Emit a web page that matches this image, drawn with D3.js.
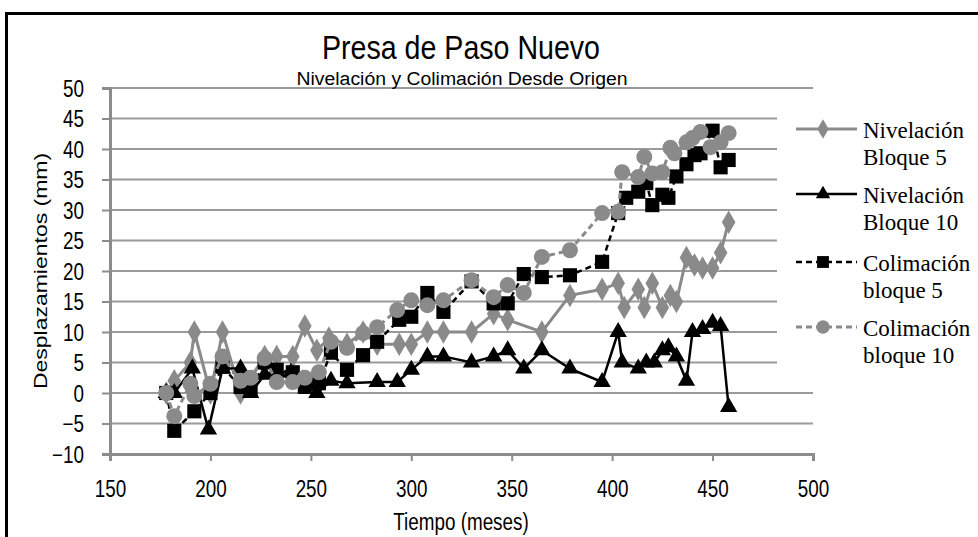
<!DOCTYPE html>
<html>
<head>
<meta charset="utf-8">
<script src="https://cdn.jsdelivr.net/npm/d3@7"></script>
<style>
  body { margin: 0; background: #fff; }
  .axis text { font-family: "Liberation Sans", Arial, sans-serif; font-size: 23px; fill: #000; }
  .axis path, .axis line { stroke: #8c8c8c; }
</style>
</head>
<body>
<script>
// data (months, mm)
var nivB5Months = [178,182,190,192,200,206,215,227,233,241,247,253,259,268,276,283,294,300,308,316,330,341,348,365,379,395,403,406,413,416,420,425,429,432,437,441,445,450,454,458];
var nivB5Values = [0,2,5,10,0,10,0,6,6,6,11,7,9,8,10,8,8,8,10,10,10,13,12,10,16,17,18,14,17,14,18,14,16,15,22.2,21,20.5,20.5,23,28];

var nivB10Months = [178,182,191,199,206,215,220,227,233,240,246,253,260,268,283,293,300,308,316,330,341,348,356,365,379,395,403,405,413,417,421,425,428,432,437,440,445,450,454,458];
var nivB10Values = [0,0,4,-6,4,4,0,3,3.5,3.3,2.2,0,2,1.6,1.8,1.8,3.8,6,6,5,6,7,4,7,4,1.8,10,5,4,5,5,7,7.5,6,2,10,10.5,11.5,11,-2.3];

var colB5Months = [178,182,192,200,206,215,220,227,233,241,247,254,260,268,276,283,294,300,308,316,330,341,348,356,365,379,395,403,407,413,417,420,425,428,432,437,441,444,450,454,458];
var colB5Values = [0,-6.2,-3,0,4.3,1,0.5,5,3.8,3.4,1,1.6,6.6,3.8,6.2,8.4,12,12.5,16.4,13.3,18.3,14.7,14.7,19.5,19,19.3,21.5,29.5,32,33,34.4,30.8,32.5,32,35.5,37.5,39,39.3,43,37,38.2];

var colB10Months = [178,182,190,192,200,206,215,220,227,233,241,247,254,260,268,276,283,293,300,308,316,330,341,348,356,365,379,395,403,405,413,416,420,425,429,431,437,440,444,449,454,458];
var colB10Values = [0,-3.8,1.5,-0.5,1.5,6,2,2.5,5.7,1.8,1.8,2.5,3.4,8.4,7.4,9.8,10.8,13.6,15.2,14.4,15.2,18.5,15.7,17.7,16.4,22.3,23.4,29.5,29.7,36.2,35.4,38.7,36,36.2,40.2,39.3,41.1,41.8,42.8,40.3,41.1,42.6];

var xTicks = [150,200,250,300,350,400,450,500];
var yTicks = [-10,-5,0,5,10,15,20,25,30,35,40,45,50];

var seriesNames = [["Nivelación","Bloque 5"],["Nivelación","Bloque 10"],["Colimación","bloque 5"],["Colimación","bloque 10"]];

var width = 978, height = 537;
var squeeze = 0.82; // the picture's text is narrow and tall
var body = d3.select("body");
var svg = body.append("svg").attr("width", width).attr("height", height);

var x = d3.scaleLinear().domain([150, 500]).range([110, 813]);
var y = d3.scaleLinear().domain([-10, 50]).range([454, 88]);

// outer frame (cut by the image edge on the right and bottom)
svg.append("rect").attr("x", 6.5).attr("y", 13.5).attr("width", 990).attr("height", 560)
  .attr("fill", "none").attr("stroke", "#000").attr("stroke-width", 3);

// gridlines
svg.append("g").selectAll("line")
  .data(yTicks.slice(1))
  .enter().append("line")
  .attr("x1", x(150)).attr("x2", x(500))
  .attr("y1", function(d){ return y(d); }).attr("y2", function(d){ return y(d); })
  .attr("stroke", "#9a9a9a").attr("stroke-width", 2);

// axes
var yAxis = d3.axisLeft(y).tickValues(yTicks).tickSize(8);
var gy = svg.append("g").attr("class", "axis").attr("transform", "translate(" + x(150) + ",0)").call(yAxis);
gy.select(".domain").attr("stroke-width", 3);
gy.selectAll(".tick line").attr("stroke-width", 2);
gy.selectAll(".tick text").attr("x", -26 / squeeze).attr("dy", "0.36em")
  .attr("transform", "scale(" + squeeze + ",1)");

var xAxis = d3.axisBottom(x).tickValues(xTicks).tickSize(7).tickPadding(20);
var gx = svg.append("g").attr("class", "axis").attr("transform", "translate(0," + y(-10) + ")").call(xAxis);
gx.select(".domain").attr("stroke-width", 3);
gx.selectAll(".tick line").attr("stroke-width", 2);
gx.selectAll(".tick text").attr("transform", "scale(" + squeeze + ",1)");

// legend background covers gridlines
svg.append("rect").attr("x", 777).attr("y", 106).attr("width", 200).attr("height", 274).attr("fill", "#fff");

// lines
function pts(ms, vs) { return ms.map(function(m, i){ return [m, vs[i]]; }); }
var line = d3.line().x(function(d){ return x(d[0]); }).y(function(d){ return y(d[1]); });

var series = [
  {data: pts(nivB5Months, nivB5Values), color: "#8a8a8a", dash: null, shape: d3.symbolDiamond, size: 160, w: 3},
  {data: pts(nivB10Months, nivB10Values), color: "#000", dash: null, shape: d3.symbolTriangle, size: 130, w: 2.5},
  {data: pts(colB5Months, colB5Values), color: "#000", dash: "6,4", shape: d3.symbolSquare, size: 200, w: 2.5},
  {data: pts(colB10Months, colB10Values), color: "#8a8a8a", dash: "6,4", shape: d3.symbolCircle, size: 200, w: 3}
];

series.forEach(function(s){
  svg.append("path").datum(s.data)
    .attr("d", line).attr("fill", "none")
    .attr("stroke", s.color).attr("stroke-width", s.w)
    .attr("stroke-dasharray", s.dash);
  svg.append("g").selectAll("path")
    .data(s.data).enter().append("path")
    .attr("transform", function(d){ return "translate(" + x(d[0]) + "," + y(d[1]) + ")"; })
    .attr("d", d3.symbol().type(s.shape).size(s.size))
    .attr("fill", s.color);
});

// legend
var legendY = [129, 194, 262, 327];
series.forEach(function(s, i){
  var g = svg.append("g").attr("transform", "translate(0," + legendY[i] + ")");
  g.append("line").attr("x1", 796).attr("x2", 857).attr("y1", 0).attr("y2", 0)
    .attr("stroke", s.color).attr("stroke-width", s.w).attr("stroke-dasharray", s.dash);
  g.append("path").attr("transform", "translate(823,0)")
    .attr("d", d3.symbol().type(s.shape).size(s.size * 0.7)).attr("fill", s.color);
  var t = g.append("text").attr("x", 863).attr("y", 9)
    .style("font-family", "'Liberation Serif', 'Times New Roman', serif").style("font-size", "23px");
  t.append("tspan").attr("x", 863).text(seriesNames[i][0]);
  t.append("tspan").attr("x", 863).attr("dy", 27).text(seriesNames[i][1]);
});

// titles
svg.append("text").attr("x", 461).attr("y", 59).attr("text-anchor", "middle")
  .attr("textLength", 278).attr("lengthAdjust", "spacingAndGlyphs")
  .style("font-family", "'Liberation Sans', Arial, sans-serif").style("font-size", "33px")
  .text("Presa de Paso Nuevo");
svg.append("text").attr("x", 462).attr("y", 85).attr("text-anchor", "middle")
  .attr("textLength", 331).attr("lengthAdjust", "spacingAndGlyphs")
  .style("font-family", "'Liberation Sans', Arial, sans-serif").style("font-size", "18px")
  .text("Nivelación y Colimación Desde Origen");

svg.append("text").attr("transform", "translate(461,530) scale(" + squeeze + ",1)").attr("text-anchor", "middle")
  .style("font-family", "'Liberation Sans', Arial, sans-serif").style("font-size", "23px")
  .text("Tiempo (meses)");
svg.append("text").attr("transform", "translate(47,271) rotate(-90) scale(1," + squeeze + ")").attr("text-anchor", "middle")
  .style("font-family", "'Liberation Sans', Arial, sans-serif").style("font-size", "23px")
  .text("Desplazamientos (mm)");
</script>
</body>
</html>
